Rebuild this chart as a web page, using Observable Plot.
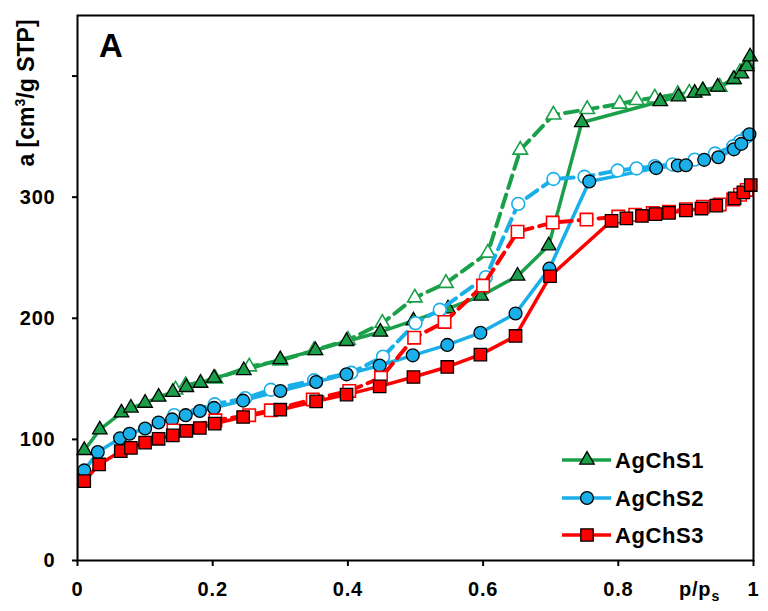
<!DOCTYPE html>
<html>
<head>
<meta charset="utf-8">
<script src="https://cdn.jsdelivr.net/npm/d3@7"></script>
<script src="https://cdn.jsdelivr.net/npm/@observablehq/plot@0.6"></script>
<style>
  html, body { margin: 0; padding: 0; background: #fff; }
  #chart svg { display: block; font-family: "Liberation Sans", Arial, sans-serif; }
</style>
</head>
<body>
<div id="chart"></div>
<script>
// ---- Data ----
const seriesNames = ["AgChS1", "AgChS2", "AgChS3"];
const seriesColors = ["#1BA04A", "#1AAFE8", "#FF0000"];
const seriesSymbols = ["triangle", "circle", "square"];
const seriesSizes = [5.4, 6.4, 7.0];

const p1Ads = [0.01,0.033,0.065,0.079,0.10,0.12,0.141,0.161,0.182,0.202,0.246,0.30,0.352,0.398,0.448,0.497,0.548,0.597,0.651,0.697,0.746,0.862,0.889,0.913,0.925,0.947,0.971,0.982,0.990,0.995];
const a1Ads = [91,108,122,126,130,135,139,143,146.5,150.7,157,166,173.5,181,188.7,198,208,218.5,235,260,361.7,379,383,386,388,391,397.5,402,408,416];
const p1Des = [0.99,0.98,0.97,0.95,0.925,0.905,0.888,0.854,0.827,0.802,0.754,0.704,0.655,0.607,0.545,0.499,0.451,0.40,0.35,0.30,0.254,0.204,0.16,0.145];
const a1Des = [410,403,397,391,388,386,385,382,380,377,372.5,368,339,254,229,217,196,182,173.5,165,160,150,144.6,141];

const p2Ads = [0.01,0.03,0.063,0.077,0.10,0.12,0.14,0.16,0.181,0.202,0.245,0.30,0.353,0.398,0.447,0.496,0.547,0.596,0.648,0.698,0.757,0.856,0.888,0.90,0.927,0.948,0.971,0.982,0.994];
const a2Ads = [74.4,89.5,101,104.7,109,114,116.5,120,123.4,126,132,140,147.4,153.7,161,169.4,178,188,204,241,313,324,326.2,326.4,330.8,333,339.5,344,352];
const p2Des = [0.99,0.98,0.97,0.943,0.913,0.88,0.854,0.827,0.799,0.75,0.704,0.652,0.604,0.536,0.50,0.452,0.405,0.35,0.286,0.248,0.203,0.143];
const a2Des = [350,346,342,336,331,327,325.6,323.7,322,316.8,315,294.5,234,207,196,168.3,155,148.8,141,134,129,120];

const p3Ads = [0.01,0.032,0.064,0.079,0.10,0.12,0.141,0.161,0.181,0.203,0.245,0.30,0.353,0.398,0.447,0.497,0.547,0.596,0.648,0.699,0.79,0.812,0.835,0.855,0.875,0.90,0.923,0.945,0.972,0.985,0.996];
const a3Ads = [65.5,79.3,90.3,93,97.3,100.5,103.3,107,109.4,113,118.5,124.5,131.4,137,143.8,151.5,159.8,170,185.4,234.7,280.5,282.5,284.5,286,287,289,290.6,293,299,304,310];
const p3Des = [0.99,0.98,0.97,0.95,0.925,0.90,0.875,0.851,0.825,0.80,0.753,0.703,0.651,0.60,0.543,0.498,0.449,0.402,0.348,0.286,0.254,0.204,0.142];
const a3Des = [306,302,298,294,292,290,288,287,285.5,284,281.5,279,271.5,227,197,184,151,140,133,124,120,115.7,107.4];

const xTicks = [0, 0.2, 0.4, 0.6, 0.8, 1];
const xTickLabels = ["0", "0.2", "0.4", "0.6", "0.8", "1"];
const yTicks = [0, 100, 200, 300, 400];
const yTickLabels = ["0", "100", "200", "300", ""];

// ---- Build tables ----
const zip = (ps, as) => ps.map((p, i) => ({p, a: as[i]}));
const series = [
  {ads: zip(p1Ads, a1Ads), des: zip(p1Des, a1Des)},
  {ads: zip(p2Ads, a2Ads), des: zip(p2Des, a2Des)},
  {ads: zip(p3Ads, a3Ads), des: zip(p3Des, a3Des)}
];

const font = '"Liberation Sans", Arial, sans-serif';
const marks = [];
series.forEach((s, i) => {
  const c = seriesColors[i];
  marks.push(Plot.line(s.des, {x: "p", y: "a", stroke: c, strokeWidth: 4, strokeDasharray: "13,7"}));
  marks.push(Plot.line(s.ads, {x: "p", y: "a", stroke: c, strokeWidth: 3.5}));
  marks.push(Plot.dot(s.des, {x: "p", y: "a", symbol: () => seriesSymbols[i], r: seriesSizes[i], fill: "white", stroke: c, strokeWidth: 1.6}));
  marks.push(Plot.dot(s.ads, {x: "p", y: "a", symbol: () => seriesSymbols[i], r: seriesSizes[i], fill: c, stroke: "black", strokeWidth: 1.3}));
});

const chart = Plot.plot({
  width: 768,
  height: 611,
  marginLeft: 77,
  marginRight: 15,
  marginTop: 15,
  marginBottom: 51,
  style: {fontFamily: font, background: "white"},
  x: {domain: [0, 1]},
  y: {domain: [0, 450]},
  marks: [
    Plot.axisX({ticks: xTicks, tickFormat: d => xTickLabels[xTicks.indexOf(d)], tickSize: 6, tickPadding: 15, strokeWidth: 2, fontSize: 20, fontWeight: "bold", label: null}),
    Plot.axisY({ticks: yTicks, tickFormat: d => yTickLabels[yTicks.indexOf(d)], tickSize: 5, tickPadding: 17, strokeWidth: 2, fontSize: 20, fontWeight: "bold", label: null}),
    ...marks,
    Plot.frame({stroke: "black", strokeWidth: 2})
  ]
});

document.getElementById("chart").appendChild(chart);

// ---- Annotations & legend ----
const svg = d3.select(chart);
svg.selectAll("text").attr("letter-spacing", "0.8px");

// Panel letter
svg.append("text").attr("x", 99).attr("y", 57).attr("text-anchor", "start")
  .attr("font-family", font).attr("font-size", 33).attr("font-weight", "bold").text("A");

// Y-axis title
const yt = svg.append("text")
  .attr("transform", "translate(34,93) rotate(-90)")
  .attr("text-anchor", "middle")
  .attr("font-family", font).attr("font-size", 23).attr("font-weight", "bold");
yt.append("tspan").text("a [cm");
yt.append("tspan").attr("font-size", 14).attr("dy", -9).text("3");
yt.append("tspan").attr("dy", 9).text("/g STP]");

// X-axis title
const xt = svg.append("text").attr("x", 679).attr("y", 596).attr("text-anchor", "start")
  .attr("font-family", font).attr("font-size", 20).attr("font-weight", "bold").attr("letter-spacing", "0.8px");
xt.append("tspan").text("p/p");
xt.append("tspan").attr("font-size", 14).attr("dy", 5).text("s");

// Legend
const leg = svg.append("g");
const legY = [460, 498, 535];
seriesNames.forEach((name, i) => {
  const y = legY[i];
  leg.append("line").attr("x1", 562).attr("x2", 611).attr("y1", y).attr("y2", y)
    .attr("stroke", seriesColors[i]).attr("stroke-width", 3.5);
  const sym = [d3.symbolTriangle, d3.symbolCircle, d3.symbolSquare][i];
  leg.append("path").attr("transform", `translate(587,${y})`)
    .attr("d", d3.symbol(sym, seriesSizes[i] * seriesSizes[i] * Math.PI)())
    .attr("fill", seriesColors[i]).attr("stroke", "black").attr("stroke-width", 1.3);
  leg.append("text").attr("x", 615).attr("y", y + 8).attr("text-anchor", "start")
    .attr("font-family", font).attr("font-size", 22).attr("font-weight", "bold")
    .attr("letter-spacing", "0.6px").text(name);
});
</script>
</body>
</html>
